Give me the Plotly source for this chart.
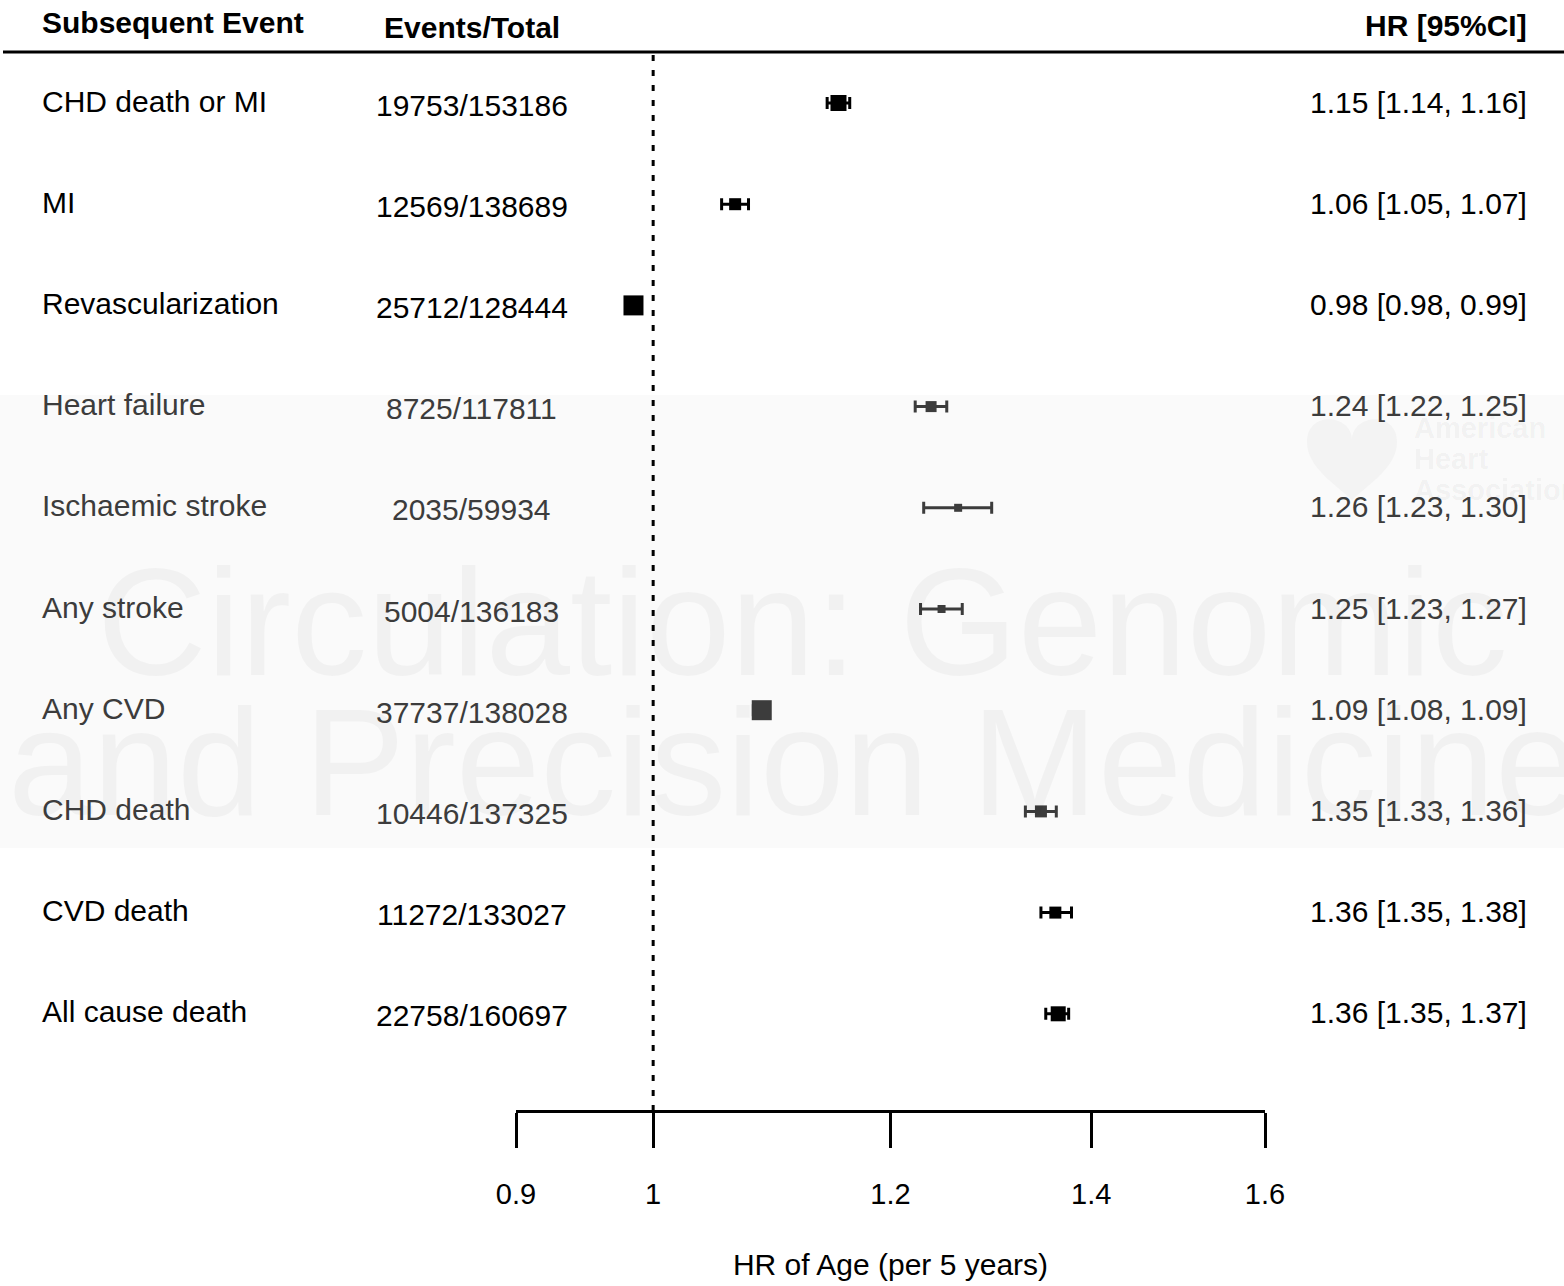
import plotly.graph_objects as go
import math

# ---------------- data ----------------
events = ["CHD death or MI", "MI", "Revascularization", "Heart failure",
          "Ischaemic stroke", "Any stroke", "Any CVD", "CHD death",
          "CVD death", "All cause death"]
counts = ["19753/153186", "12569/138689", "25712/128444", "8725/117811",
          "2035/59934", "5004/136183", "37737/138028", "10446/137325",
          "11272/133027", "22758/160697"]
hr = [1.153, 1.065, 0.985, 1.238, 1.264, 1.248, 1.087, 1.347, 1.362, 1.365]
lo = [1.143, 1.054, 0.980, 1.223, 1.231, 1.228, 1.080, 1.331, 1.347, 1.352]
hi = [1.163, 1.076, 0.990, 1.253, 1.297, 1.268, 1.090, 1.363, 1.379, 1.376]
hr_text = ["1.15 [1.14, 1.16]", "1.06 [1.05, 1.07]", "0.98 [0.98, 0.99]",
           "1.24 [1.22, 1.25]", "1.26 [1.23, 1.30]", "1.25 [1.23, 1.27]",
           "1.09 [1.08, 1.09]", "1.35 [1.33, 1.36]", "1.36 [1.35, 1.38]",
           "1.36 [1.35, 1.37]"]
box_weight = [16, 12, 20, 11, 8, 8, 20, 12, 12, 15]
tick_vals = [0.9, 1, 1.2, 1.4, 1.6]
tick_text = ["0.9", "1", "1.2", "1.4", "1.6"]

# ---------------- layout helpers ----------------
W, H = 1564, 1286
FONT = "Liberation Sans, Arial, sans-serif"
FS = 30
ROW0, STEP = 103.0, 101.2          # pixel of first row, row spacing
AXIS_PX = 1110.0                   # pixel of x axis line
y_top = (0 - ROW0) / STEP
y_bot = (AXIS_PX - ROW0) / STEP
def row_of(px):
    return (px - ROW0) / STEP
def px(x, y):
    return "%.5f,%.5f" % (x / W, 1 - y / H)

band_rows = {3, 4, 5, 6, 7}        # rows under the faint watermark band
def shade(i):
    return "#3c3c3c" if i in band_rows else "#000000"

fig = go.Figure()

# faint watermark band
fig.add_shape(type="rect", xref="paper", yref="paper", x0=0, x1=1,
              y0=1 - 848 / H, y1=1 - 395 / H, fillcolor="#fafafa",
              line=dict(width=0), layer="below")
# faint heart logo
heart = ("M" + px(1352, 440) + " C" + px(1352, 414) + " " + px(1307, 410) +
         " " + px(1307, 442) + " C" + px(1307, 468) + " " + px(1338, 486) +
         " " + px(1352, 500) + " C" + px(1366, 486) + " " + px(1397, 468) +
         " " + px(1397, 442) + " C" + px(1397, 410) + " " + px(1352, 414) +
         " " + px(1352, 440) + " Z")
fig.add_shape(type="path", xref="paper", yref="paper", path=heart,
              fillcolor="#f3f3f3", line=dict(width=0), layer="below")

# dotted reference line at HR = 1
fig.add_trace(go.Scatter(
    x=[1, 1], y=[row_of(55), y_bot], mode="lines",
    line=dict(color="black", width=3, dash="6px,9px"),
    hoverinfo="skip", showlegend=False, cliponaxis=False))

# points with CIs, grouped by colour
for grp_black in (True, False):
    idx = [i for i in range(len(hr)) if (i not in band_rows) == grp_black]
    col = "#000000" if grp_black else "#3c3c3c"
    fig.add_trace(go.Scatter(
        x=[hr[i] for i in idx], y=idx, mode="markers",
        marker=dict(symbol="square", size=[box_weight[i] for i in idx],
                    color=col, opacity=1, line=dict(width=0)),
        error_x=dict(type="data", symmetric=False,
                     array=[hi[i] - hr[i] for i in idx],
                     arrayminus=[hr[i] - lo[i] for i in idx],
                     color=col, thickness=3, width=6),
        showlegend=False, cliponaxis=False,
        text=[events[i] for i in idx]))

ann = []
# watermark text
WM = "rgba(0,0,0,0.035)"
ann.append(dict(text="Circulation: Genomic", xref="paper", yref="paper",
                x=802 / W, y=1 - 622 / H, xanchor="center", yanchor="middle",
                showarrow=False, font=dict(family=FONT, size=152, color=WM)))
ann.append(dict(text="and Precision Medicine", xref="paper", yref="paper",
                x=6 / W, y=1 - 762 / H, xanchor="left", yanchor="middle",
                showarrow=False, font=dict(family=FONT, size=152, color=WM)))
for k, t in enumerate(["American", "Heart", "Association"]):
    ann.append(dict(text="<b>%s</b>" % t, xref="paper", yref="paper",
                    x=1412 / W, y=1 - (428 + 31 * k) / H, xanchor="left",
                    yanchor="middle", showarrow=False,
                    font=dict(family=FONT, size=29, color="rgba(0,0,0,0.05)")))

# headers
hdr = dict(family=FONT, size=FS, color="black")
ann.append(dict(text="<b>Subsequent Event</b>", xref="paper", yref="paper",
                x=40 / W, y=1 - 23 / H, xanchor="left", yanchor="middle",
                showarrow=False, font=hdr))
ann.append(dict(text="<b>Events/Total</b>", xref="paper", yref="paper",
                x=472 / W, y=1 - 27 / H, xanchor="center", yanchor="middle",
                showarrow=False, font=hdr))
ann.append(dict(text="<b>HR [95%CI]</b>", xref="paper", yref="paper",
                x=1529 / W, y=1 - 25 / H, xanchor="right", yanchor="middle",
                showarrow=False, font=hdr))

# table rows
for i in range(len(events)):
    f = dict(family=FONT, size=FS, color=shade(i))
    ann.append(dict(text=events[i], xref="paper", yref="y", x=40 / W, y=i,
                    yshift=2, xanchor="left", yanchor="middle",
                    showarrow=False, font=f))
    ann.append(dict(text=counts[i], xref="paper", yref="y", x=471.5 / W,
                    y=i, yshift=-2, xanchor="center", yanchor="middle",
                    showarrow=False, font=f))
    ann.append(dict(text=hr_text[i], xref="paper", yref="y", x=1529 / W,
                    y=i, yshift=1, xanchor="right", yanchor="middle",
                    showarrow=False, font=f))

# header rule
fig.add_shape(type="line", xref="paper", yref="paper", x0=3 / W, x1=1,
              y0=1 - 52 / H, y1=1 - 52 / H,
              line=dict(color="black", width=3))

fig.update_layout(
    width=W, height=H,
    margin=dict(l=0, r=0, t=0, b=0, pad=0, autoexpand=False),
    paper_bgcolor="white", plot_bgcolor="rgba(0,0,0,0)",
    annotations=ann, showlegend=False,
    xaxis=dict(type="log", domain=[516 / W, 1265 / W],
               range=[math.log10(0.9), math.log10(1.6)],
               tickvals=tick_vals, ticktext=tick_text,
               ticks="outside", ticklen=35, tickwidth=3, tickcolor="black",
               showline=True, linewidth=3, linecolor="black",
               showgrid=False, zeroline=False, automargin=False,
               tickfont=dict(family=FONT, size=29, color="black"),
               ticklabelstandoff=21,
               title=dict(text="HR of Age (per 5 years)", standoff=46,
                          font=dict(family=FONT, size=FS, color="black"))),
    yaxis=dict(domain=[1 - AXIS_PX / H, 1], range=[y_bot, y_top],
               visible=False, showgrid=False, zeroline=False,
               automargin=False),
)

fig.write_html("out.html")
